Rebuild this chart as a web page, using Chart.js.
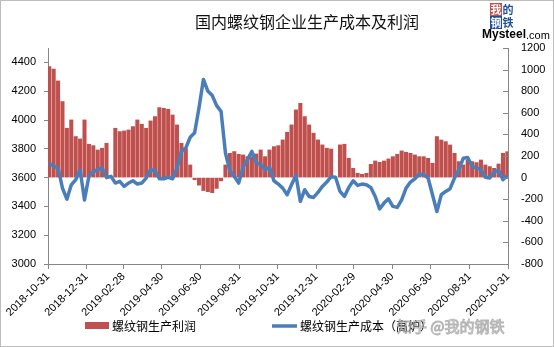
<!DOCTYPE html>
<html>
<head>
<meta charset="utf-8">
<script src="https://cdn.jsdelivr.net/npm/chart.js@4/dist/chart.umd.min.js"></script>
<style>
  html, body { margin: 0; padding: 0; background: #fff; }
  canvas { display: block; }
</style>
</head>
<body>
<canvas id="costChart" width="554" height="347"></canvas>
<script>
// weekly series, first week ending 2018-11-02
const weekStart = "2018-11-02";

// 螺纹钢生产利润 (right axis), null = holiday gap
const profit = [
  1028, 1005, 895, 704, 457, 534, 380, 358, 534, 309,
  296, 256, 272, 318, null, 457, 426, 432, 441, 472,
  534, 494, 457, 525, 565, 648, 642, 633, 580, 488,
  318, 270, 117, -20, -70, -120, -130, -140, -100, -30,
  117, 225, 241, 216, 210, 194, 194, 219, 256, 194,
  256, 287, 296, 349, 420, 488, 627, 688, 565, 488,
  411, 349, 303, 272, 265, null, 303, 309, 179, 86,
  40, 31, 40, 123, 154, 142, 154, 173, 194, 216,
  247, 235, 225, 210, 194, 194, 179, 133, 380, 348,
  333, 302, 225, 148, 117, 163, 148, 139, 163, 117,
  102, 86, 126, 225, 240
];

// 螺纹钢生产成本（高炉） (left axis)
const cost = [
  3700, 3678, 3667, 3527, 3450, 3550, 3585, 3655, 3445, 3609,
  3640, 3655, 3667, 3600, 3609, 3562, 3574, 3539, 3562, 3578,
  3555, 3562, 3597, 3655, 3648, 3592, 3592, 3602, 3592, 3667,
  3783, 3806, 3880, 3911, 4085, 4282, 4201, 4170, 4100, 4060,
  3770, 3648, 3609, 3562, 3672, 3725, 3783, 3702, 3690, 3655,
  3672, 3578, 3555, 3527, 3481, 3550, 3616, 3435, 3516, 3469,
  3462, 3497, 3539, 3569, 3606, 3602, 3504, 3469, 3532, 3578,
  3546, 3555, 3550, 3532, 3469, 3383, 3423, 3453, 3400, 3393,
  3446, 3527, 3569, 3592, 3625, 3620, 3597, 3481, 3365, 3481,
  3504, 3523, 3597, 3655, 3735, 3740, 3678, 3667, 3655, 3602,
  3597, 3639, 3651, 3585, 3615
];

const tickDates = [
  "2018-10-31", "2018-12-31", "2019-02-28", "2019-04-30", "2019-06-30",
  "2019-08-31", "2019-10-31", "2019-12-31", "2020-02-29", "2020-04-30",
  "2020-06-30", "2020-08-31", "2020-10-31"
];

const titleText = "国内螺纹钢企业生产成本及利润";
const profitLabel = "螺纹钢生产利润";
const costLabel = "螺纹钢生产成本（高炉）";

const RED = "#C0504D";
const BLUE = "#4A7EBB";
const CJK = '"Noto Sans CJK SC", sans-serif';

// days since the first axis date
function dayOf(str) {
  const [y, m, d] = str.split("-").map(Number);
  const [y0, m0, d0] = tickDates[0].split("-").map(Number);
  return (Date.UTC(y, m - 1, d) - Date.UTC(y0, m0 - 1, d0)) / 86400000;
}

const firstDay = dayOf(weekStart);
const profitPoints = profit.map((v, i) => ({ x: firstDay + 7 * i, y: v }));
const costPoints = cost.map((v, i) => ({ x: firstDay + 7 * i, y: v }));

// title, logo, legend, frame, watermark
const decor = {
  id: "decor",
  beforeDraw(chart) {
    const ctx = chart.ctx;
    ctx.save();
    ctx.fillStyle = "#fff";
    ctx.fillRect(0, 0, chart.width, chart.height);
    ctx.restore();
  },
  afterDraw(chart) {
    const ctx = chart.ctx;
    const area = chart.chartArea;
    ctx.save();

    // inward ticks on the right axis
    const r = chart.scales.y1;
    ctx.strokeStyle = "#868686";
    ctx.lineWidth = 1;
    r.ticks.forEach(t => {
      const y = Math.round(r.getPixelForValue(t.value)) + 0.5;
      ctx.beginPath();
      ctx.moveTo(area.right, y);
      ctx.lineTo(area.right - 5, y);
      ctx.stroke();
    });

    // outer frame
    ctx.strokeStyle = "#bdbdbd";
    ctx.strokeRect(0.5, 0.5, chart.width - 1, chart.height - 1);

    // title
    ctx.fillStyle = "#111";
    ctx.font = "16px " + CJK;
    ctx.textAlign = "center";
    ctx.textBaseline = "middle";
    ctx.fillText(titleText, 307, 22);

    // Mysteel logo
    const cells = [
      ["我", 490, 3, RED, "#fff"],
      ["的", 502, 3, "#fff", "#1f4e9c"],
      ["钢", 490, 16, "#1f4e9c", "#fff"],
      ["铁", 502, 16, "#fff", "#1f4e9c"]
    ];
    ctx.font = "bold 11px " + CJK;
    cells.forEach(([ch, x, y, bg, fg]) => {
      ctx.fillStyle = bg;
      ctx.fillRect(x, y, 12, 13);
      ctx.fillStyle = fg;
      ctx.fillText(ch, x + 6, y + 7);
    });
    ctx.textAlign = "left";
    ctx.fillStyle = "#000";
    ctx.font = 'bold 12px "Liberation Sans", sans-serif';
    ctx.fillText("Mysteel", 482, 35);
    const mw = ctx.measureText("Mysteel").width;
    ctx.font = '11px "Liberation Sans", sans-serif';
    ctx.fillText(".com", 482 + mw, 36);

    // legend
    const ly = 326;
    ctx.fillStyle = RED;
    ctx.fillRect(85, ly - 4, 24, 7);
    ctx.fillStyle = "#000";
    ctx.font = "12px " + CJK;
    ctx.fillText(profitLabel, 112, ly);
    ctx.strokeStyle = BLUE;
    ctx.lineWidth = 3.5;
    ctx.beginPath();
    ctx.moveTo(272, ly);
    ctx.lineTo(297, ly);
    ctx.stroke();
    ctx.fillText(costLabel, 300, ly);

    // site watermark
    ctx.font = "15px " + CJK;
    ctx.lineWidth = 1;
    ctx.strokeStyle = "rgba(120,120,120,0.55)";
    ctx.fillStyle = "rgba(255,255,255,0.6)";
    ctx.fillText("知乎 @我的钢铁", 397, ly);
    ctx.strokeText("知乎 @我的钢铁", 397, ly);

    ctx.restore();
  }
};

Chart.defaults.font.family = '"Liberation Sans", "Noto Sans CJK SC", sans-serif';
Chart.defaults.font.size = 11;
Chart.defaults.color = "#000";

const plain = v => String(v);

new Chart(document.getElementById("costChart"), {
  type: "bar",
  data: {
    datasets: [
      {
        type: "line",
        label: costLabel,
        data: costPoints,
        yAxisID: "y",
        borderColor: BLUE,
        backgroundColor: BLUE,
        borderWidth: 3.5,
        pointRadius: 0,
        tension: 0,
        borderJoinStyle: "round",
        order: 1
      },
      {
        type: "bar",
        label: profitLabel,
        data: profitPoints,
        yAxisID: "y1",
        backgroundColor: RED,
        borderWidth: 0,
        barThickness: 3.4,
        order: 2
      }
    ]
  },
  plugins: [decor],
  options: {
    responsive: false,
    animation: false,
    layout: {
      padding: { top: 48, left: 0, right: 0, bottom: 0 }
    },
    plugins: {
      legend: { display: false },
      tooltip: { enabled: false }
    },
    scales: {
      x: {
        type: "linear",
        offset: false,
        min: 0,
        max: dayOf(tickDates[tickDates.length - 1]),
        afterBuildTicks: scale => {
          scale.ticks = tickDates.map(d => ({ value: dayOf(d) }));
        },
        afterFit: scale => {
          scale.height = 83;
          scale.paddingLeft = 0;
          scale.paddingRight = 0;
        },
        ticks: {
          autoSkip: false,
          minRotation: 45,
          maxRotation: 45,
          padding: 1,
          font: { size: 11 },
          callback: (v, i) => tickDates[i]
        },
        grid: {
          offset: false,
          drawOnChartArea: false,
          color: "#868686",
          tickLength: 5
        },
        border: { color: "#868686" }
      },
      y: {
        position: "left",
        min: 3000,
        max: 4500,
        afterFit: scale => { scale.width = 48; },
        ticks: {
          stepSize: 200,
          includeBounds: false,
          padding: 8,
          font: { size: 11 },
          callback: plain
        },
        grid: {
          drawOnChartArea: false,
          color: "#868686",
          tickLength: 4
        },
        border: { color: "#868686" }
      },
      y1: {
        position: "right",
        min: -800,
        max: 1200,
        afterFit: scale => { scale.width = 46; },
        ticks: {
          stepSize: 200,
          padding: 13,
          font: { size: 11 },
          callback: plain
        },
        grid: {
          drawOnChartArea: false,
          drawTicks: false
        },
        border: { color: "#868686" }
      }
    }
  }
});
</script>
</body>
</html>
